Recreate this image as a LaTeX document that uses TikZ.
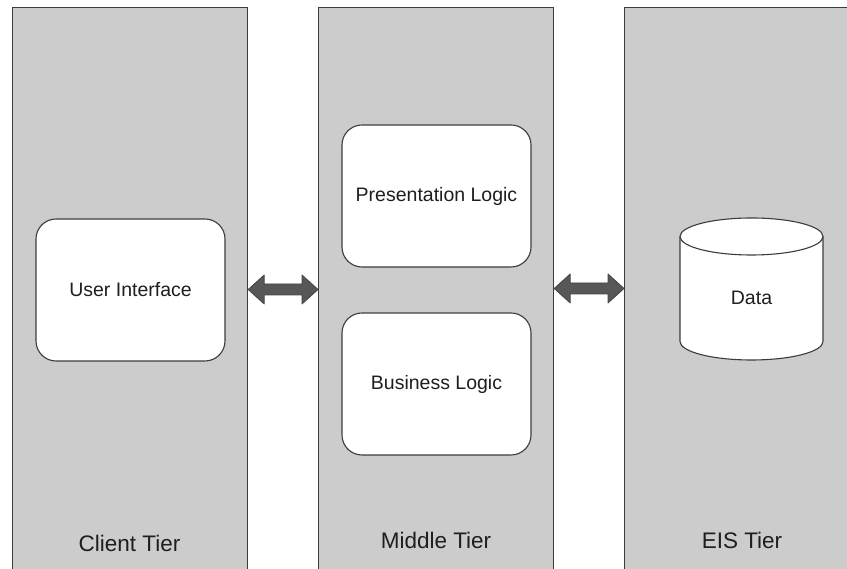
\documentclass[tikz,border=0pt]{standalone}
\usepackage{fontspec}
\setmainfont{Liberation Sans}
\usetikzlibrary{calc}

\definecolor{tierfill}{HTML}{CCCCCC}
\definecolor{edge}{HTML}{3C3C3C}
\definecolor{arrowfill}{HTML}{575757}
\definecolor{arrowedge}{HTML}{444444}
\definecolor{ink}{HTML}{1E1E1E}

\tikzset{
  tier/.style={draw=edge, fill=tierfill, line width=1.2pt, rectangle,
    anchor=north west, inner sep=0pt},
  tierlabel/.style={text=ink, font=\fontsize{22.5}{26}\selectfont},
  logicbox/.style={draw=edge, fill=white, line width=1.1pt, rounded corners=20pt,
    minimum width=189pt, minimum height=142pt, text=ink,
    font=\fontsize{19.5}{23}\selectfont},
  store/.style={draw=edge, fill=white, line width=1.1pt},
  fatarrow/.style={fill=arrowfill, draw=arrowedge, line width=0.8pt, line join=round},
}

% double-headed block arrow between two named points on one level
\newcommand\blockarrow[2]{%
  \path[fatarrow] let \p1=(#1), \p2=(#2) in
    (\p1) -- (\x1+16pt,\y1+14.5pt) -- (\x1+16pt,\y1+5.5pt) -- (\x2-16pt,\y1+5.5pt)
    -- (\x2-16pt,\y1+14.5pt) -- (\p2) -- (\x2-16pt,\y1-14.5pt) -- (\x2-16pt,\y1-5.5pt)
    -- (\x1+16pt,\y1-5.5pt) -- (\x1+16pt,\y1-14.5pt) -- cycle;}

\begin{document}
\begin{tikzpicture}[x=1pt,y=1pt]
  \useasboundingbox (0,0) rectangle (847,569);
  \clip (0,0) rectangle (847,569);
  \fill[white] (0,0) rectangle (847,569);

  % the three tiers
  \node[tier, minimum width=235pt, minimum height=580pt] (c1) at (12,562) {};
  \node[tier, minimum width=235pt, minimum height=580pt] (c2) at (318,562) {};
  \node[tier, minimum width=236pt, minimum height=580pt] (c3) at (624,562) {};

  \node[tierlabel] (l1) at (129.5,26) {Client Tier};
  \node[tierlabel] (l2) at (436,29) {Middle Tier};
  \node[tierlabel] (l3) at (742,29) {EIS Tier};

  % components
  \node[logicbox] (ui) at (130.5,279) {User Interface};
  \node[logicbox] (pl) at (436.5,373) {Presentation Logic};
  \node[logicbox] (bl) at (436.5,185) {Business Logic};

  % data store
  \path[store] (680,332.5) -- (680,227.5)
    arc[start angle=180, end angle=360, x radius=71.5, y radius=18.5]
    -- (823,332.5)
    arc[start angle=0, end angle=180, x radius=71.5, y radius=18.5] -- cycle;
  \draw[store, fill=none] (680,332.5)
    arc[start angle=180, end angle=360, x radius=71.5, y radius=18.5];
  \node[text=ink, font=\fontsize{19.5}{23}\selectfont] (db) at (751.5,271) {Data};

  % links between tiers
  \coordinate (a1) at (c1.east |- 0,279.5);
  \coordinate (a2) at (c2.west |- 0,279.5);
  \coordinate (b1) at (c2.east |- 0,280.5);
  \coordinate (b2) at (c3.west |- 0,280.5);
  \blockarrow{a1}{a2}
  \blockarrow{b1}{b2}
\end{tikzpicture}
\end{document}
